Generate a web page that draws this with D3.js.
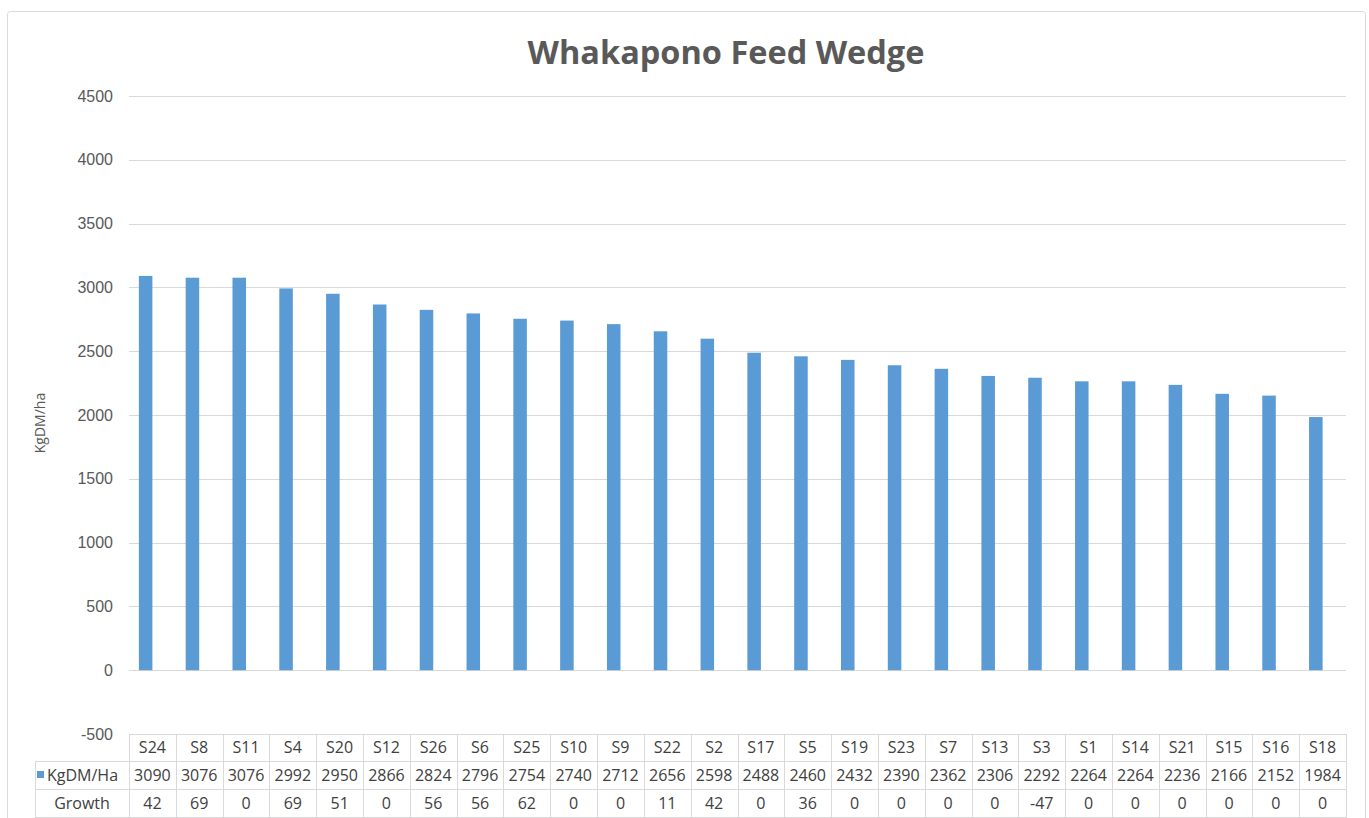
<!DOCTYPE html>
<html lang="en">
<head>
  <meta charset="UTF-8">
  <title>Whakapono Feed Wedge</title>
  <script src="https://d3js.org/d3.v7.min.js"></script>
  <style>
    body, html {
      margin: 0;
      padding: 0;
      background: #fff;
    }
    svg { display: block; font-family: "Open Sans", sans-serif; }
    .grid line { stroke: #d9d9d9; stroke-width: 1px; }
    .tick-label { font-size: 16px; fill: #595959; }
    .cell { font-size: 16px; fill: #404040; }
    .tbl { stroke: #d9d9d9; stroke-width: 1px; }
  </style>
</head>
<body>
  <svg id="chart" width="1369" height="818"></svg>

  <script>
    // paddocks, sorted by cover
    const categories = ["S24", "S8", "S11", "S4", "S20", "S12", "S26", "S6", "S25", "S10", "S9", "S22", "S2",
      "S17", "S5", "S19", "S23", "S7", "S13", "S3", "S1", "S14", "S21", "S15", "S16", "S18"];
    const kgdm = [3090, 3076, 3076, 2992, 2950, 2866, 2824, 2796, 2754, 2740, 2712, 2656, 2598,
      2488, 2460, 2432, 2390, 2362, 2306, 2292, 2264, 2264, 2236, 2166, 2152, 1984];
    const growth = [42, 69, 0, 69, 51, 0, 56, 56, 62, 0, 0, 11, 42,
      0, 36, 0, 0, 0, 0, -47, 0, 0, 0, 0, 0, 0];
    const seriesNames = ["KgDM/Ha", "Growth"];
    const yTicks = [-500, 0, 500, 1000, 1500, 2000, 2500, 3000, 3500, 4000, 4500];

    const svg = d3.select("#chart");
    const plot = { left: 129, right: 1346, top: 96, bottom: 734 };

    // outer chart frame
    svg.append("rect")
      .attr("x", 7.5).attr("y", 11.5)
      .attr("width", 1358).attr("height", 840)
      .attr("rx", 3)
      .attr("fill", "#fff")
      .attr("stroke", "#d9d9d9");

    svg.append("text")
      .attr("x", 726).attr("y", 64)
      .attr("text-anchor", "middle")
      .attr("font-size", 32.5)
      .attr("font-weight", "bold")
      .attr("fill", "#595959")
      .text("Whakapono Feed Wedge");

    const x = d3.scaleBand()
      .domain(categories)
      .range([plot.left, plot.right])
      .padding(0);

    const x1 = d3.scaleBand()
      .domain(seriesNames)
      .range([0, x.bandwidth()])
      .paddingInner(0)
      .paddingOuter(0.73);

    const y = d3.scaleLinear()
      .domain([-500, 4500])
      .range([plot.bottom, plot.top]);

    // gridlines
    svg.append("g")
      .attr("class", "grid")
      .selectAll("line")
      .data(yTicks)
      .join("line")
      .attr("x1", plot.left).attr("x2", plot.right)
      .attr("y1", d => Math.round(y(d)) + 0.5)
      .attr("y2", d => Math.round(y(d)) + 0.5);

    // y axis labels
    const yAxis = svg.append("g")
      .attr("transform", `translate(${plot.left - 16},0)`)
      .call(d3.axisLeft(y).tickValues(yTicks).tickSize(0).tickPadding(0)
        .tickFormat(d => String(d)));
    yAxis.select(".domain").remove();
    yAxis.selectAll("text")
      .attr("class", "tick-label")
      .attr("font-family", null)
      .attr("font-size", null)
      .attr("fill", null);

    svg.append("text")
      .attr("transform", "translate(45,423) rotate(-90)")
      .attr("text-anchor", "middle")
      .attr("font-size", 14)
      .attr("fill", "#595959")
      .text("KgDM/ha");

    // bars (growth series has no fill in the original)
    svg.append("g")
      .selectAll("rect")
      .data(categories.map((c, i) => ({ c, v: kgdm[i] })))
      .join("rect")
      .attr("x", d => x(d.c) + x1("KgDM/Ha"))
      .attr("width", x1.bandwidth())
      .attr("y", d => y(d.v))
      .attr("height", d => y(0) - y(d.v))
      .attr("fill", "#5b9bd5");

    // data table
    const rows = { top: 734, r1: 761, r2: 789, bottom: 818 };
    const labelLeft = 35;
    const tbl = svg.append("g");

    tbl.append("line").attr("class", "tbl")
      .attr("x1", plot.left).attr("x2", plot.right)
      .attr("y1", rows.top + 0.5).attr("y2", rows.top + 0.5);
    [rows.r1, rows.r2, rows.bottom - 1].forEach(yy => {
      tbl.append("line").attr("class", "tbl")
        .attr("x1", labelLeft).attr("x2", plot.right)
        .attr("y1", yy + 0.5).attr("y2", yy + 0.5);
    });
    tbl.append("line").attr("class", "tbl")
      .attr("x1", labelLeft + 0.5).attr("x2", labelLeft + 0.5)
      .attr("y1", rows.r1).attr("y2", rows.bottom);

    const bounds = categories.map(c => x(c)).concat([plot.right]);
    tbl.selectAll("line.vert")
      .data(bounds)
      .join("line")
      .attr("class", "tbl vert")
      .attr("x1", d => Math.round(d) + 0.5).attr("x2", d => Math.round(d) + 0.5)
      .attr("y1", rows.top).attr("y2", rows.bottom);

    const mid = (a, b) => (a + b) / 2;
    const cx = c => x(c) + x.bandwidth() / 2;

    tbl.selectAll("text.cat")
      .data(categories)
      .join("text")
      .attr("class", "cell cat")
      .attr("x", cx)
      .attr("y", mid(rows.top, rows.r1))
      .attr("dy", "0.35em")
      .attr("text-anchor", "middle")
      .text(d => d);

    tbl.selectAll("text.kg")
      .data(categories.map((c, i) => ({ c, v: kgdm[i] })))
      .join("text")
      .attr("class", "cell kg")
      .attr("x", d => cx(d.c))
      .attr("y", mid(rows.r1, rows.r2))
      .attr("dy", "0.35em")
      .attr("text-anchor", "middle")
      .text(d => d.v);

    tbl.selectAll("text.gr")
      .data(categories.map((c, i) => ({ c, v: growth[i] })))
      .join("text")
      .attr("class", "cell gr")
      .attr("x", d => cx(d.c))
      .attr("y", mid(rows.r2, rows.bottom))
      .attr("dy", "0.35em")
      .attr("text-anchor", "middle")
      .text(d => d.v);

    // row labels with legend key
    tbl.append("rect")
      .attr("x", 37).attr("y", 771)
      .attr("width", 7).attr("height", 7)
      .attr("fill", "#5b9bd5");
    tbl.append("text")
      .attr("class", "cell")
      .attr("x", 47)
      .attr("y", mid(rows.r1, rows.r2))
      .attr("dy", "0.35em")
      .text(seriesNames[0]);
    tbl.append("text")
      .attr("class", "cell")
      .attr("x", mid(labelLeft, plot.left))
      .attr("y", mid(rows.r2, rows.bottom))
      .attr("dy", "0.35em")
      .attr("text-anchor", "middle")
      .text(seriesNames[1]);
  </script>
</body>
</html>
